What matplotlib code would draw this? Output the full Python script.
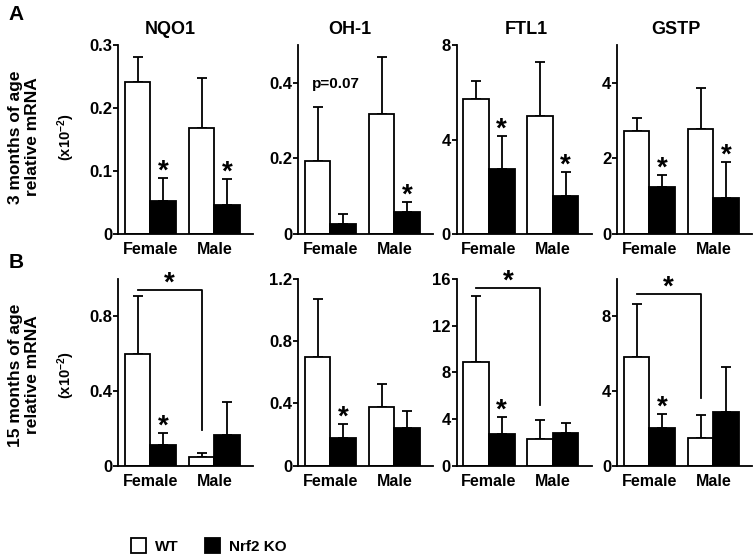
import matplotlib
matplotlib.use('Agg')
import matplotlib.pyplot as plt
import matplotlib.patches as mpatches
from matplotlib.ticker import FuncFormatter
import numpy as np

plt.rcParams['font.family'] = ['Liberation Sans', 'DejaVu Sans']
plt.rcParams['font.weight'] = 'bold'
plt.rcParams['mathtext.fontset'] = 'custom'
plt.rcParams['mathtext.rm'] = 'Liberation Sans:bold'
plt.rcParams['mathtext.it'] = 'Liberation Sans:bold'

# ─── Data ───────────────────────────────────────────────────────────────────
genes = ['NQO1', 'OH-1', 'FTL1', 'GSTP']
sexes = ['Female', 'Male']

# 3 months, per gene: [female, male]
wt_3m = [[0.241, 0.168], [0.192, 0.318], [5.70, 4.99], [2.72, 2.78]]
wt_3m_err = [[0.040, 0.080], [0.143, 0.150], [0.77, 2.28], [0.36, 1.09]]
ko_3m = [[0.052, 0.046], [0.026, 0.059], [2.74, 1.60], [1.24, 0.96]]
ko_3m_err = [[0.037, 0.041], [0.026, 0.025], [1.40, 1.02], [0.33, 0.95]]
star_3m = [[True, True], [False, True], [True, True], [True, True]]

# 15 months
wt_15m = [[0.599, 0.043], [0.698, 0.378], [8.89, 2.25], [5.80, 1.48]]
wt_15m_err = [[0.308, 0.025], [0.372, 0.145], [5.68, 1.65], [2.88, 1.22]]
ko_15m = [[0.110, 0.165], [0.179, 0.244], [2.68, 2.77], [2.01, 2.86]]
ko_15m_err = [[0.066, 0.175], [0.091, 0.108], [1.48, 0.84], [0.75, 2.42]]
star_15m = [[True, False], [True, False], [True, False], [True, False]]

# WT female vs WT male brackets (15 months): (bar top, right leg end) or None
bracket_15m = [(0.939, 0.19), None, (15.24, 5.2), (9.21, 3.61)]

ylim_3m = [0.3, 0.5, 8, 5]
yticks_3m = [[0, 0.1, 0.2, 0.3], [0, 0.2, 0.4], [0, 4, 8], [0, 2, 4]]
ylim_15m = [1.0, 1.2, 16, 10]
yticks_15m = [[0, 0.4, 0.8], [0, 0.4, 0.8, 1.2], [0, 4, 8, 12, 16], [0, 4, 8]]

# ─── Layout ─────────────────────────────────────────────────────────────────
W, H = 755, 560
fig = plt.figure(figsize=(W / 100, H / 100), dpi=100)

ax_lefts = [118, 298, 456.5, 617]
ax_w = 135
rows = [(234, 45), (465.5, 279)]  # (zero line, top) in px
title_x = [0.39, 0.385, 0.52, 0.437]

x_wt = np.array([0, 2.5])
x_ko = np.array([1, 3.5])
LW = 1.3


def fmt(v, pos):
    return '%g' % v


def star(ax, x, y):
    ax.annotate('*', xy=(x, y), xytext=(0, -0.5), textcoords='offset points',
                ha='center', va='baseline', fontsize=20, fontweight='bold',
                annotation_clip=False)


def draw_panel(ax, wt, wt_err, ko, ko_err, stars, ylim, yticks, bracket=None):
    ax.bar(x_wt, wt, width=1.0, color='white', edgecolor='black',
           linewidth=LW, zorder=2)
    ax.bar(x_ko, ko, width=1.0, color='black', edgecolor='black',
           linewidth=LW, zorder=2)
    for xs, ys, es in [(x_wt, wt, wt_err), (x_ko, ko, ko_err)]:
        ax.errorbar(xs, ys, yerr=[np.zeros(len(es)), es], fmt='none',
                    ecolor='black', elinewidth=LW, capsize=3.6,
                    capthick=LW, zorder=1)
    for i, s in enumerate(stars):
        if s:
            star(ax, x_ko[i], ko[i] + ko_err[i])
    if bracket is not None:
        top, leg = bracket
        ax.plot([x_wt[0], x_wt[1], x_wt[1]], [top, top, leg],
                color='black', lw=LW, clip_on=False)
        star(ax, x_wt.mean(), top)

    ax.set_xlim(-0.77, 4.51)
    ax.set_ylim(0, ylim)
    ax.set_yticks(yticks)
    ax.yaxis.set_major_formatter(FuncFormatter(fmt))
    ax.set_xticks([0.5, 3.0])
    ax.set_xticklabels(sexes)
    ax.tick_params(axis='x', length=0, pad=6, labelsize=11.5)
    ax.tick_params(axis='y', length=3.4, width=LW, pad=0.8, labelsize=12)
    for sp in ['top', 'right']:
        ax.spines[sp].set_visible(False)
    for sp in ['left', 'bottom']:
        ax.spines[sp].set_linewidth(LW)


for r, (zero, top) in enumerate(rows):
    for g in range(4):
        ax = fig.add_axes([ax_lefts[g] / W, 1 - zero / H, ax_w / W, (zero - top) / H])
        if r == 0:
            draw_panel(ax, wt_3m[g], wt_3m_err[g], ko_3m[g], ko_3m_err[g],
                       star_3m[g], ylim_3m[g], yticks_3m[g])
            ax.text(title_x[g], 1 + 15.5 / (zero - top), genes[g],
                    transform=ax.transAxes, ha='center', va='center',
                    fontsize=13, fontweight='bold')
            if genes[g] == 'OH-1':
                ax.text(0.72, 0.398, 'p=0.07', ha='center', va='center',
                        fontsize=11, fontweight='bold')
        else:
            draw_panel(ax, wt_15m[g], wt_15m_err[g], ko_15m[g], ko_15m_err[g],
                       star_15m[g], ylim_15m[g], yticks_15m[g], bracket_15m[g])

# Row labels
fig.text(24 / W, 1 - 137 / H, '3 months of age\nrelative mRNA', rotation=90,
         ha='center', va='center', fontsize=12.5, fontweight='bold',
         linespacing=1.1)
fig.text(24 / W, 1 - 375 / H, '15 months of age\nrelative mRNA', rotation=90,
         ha='center', va='center', fontsize=12.5, fontweight='bold',
         linespacing=1.1)
for yc in [137, 375]:
    fig.text(66 / W, 1 - yc / H, r'(x10$^{-2}$)', rotation=90,
             ha='center', va='center', fontsize=10.5)

fig.text(16 / W, 1 - 14 / H, 'A', ha='center', va='center', fontsize=15,
         fontweight='bold')
fig.text(16 / W, 1 - 263 / H, 'B', ha='center', va='center', fontsize=15,
         fontweight='bold')

# Legend
handles = [mpatches.Patch(facecolor='white', edgecolor='black', linewidth=LW, label='WT'),
           mpatches.Patch(facecolor='black', edgecolor='black', linewidth=LW, label='Nrf2 KO')]
fig.legend(handles=handles, loc='center left', bbox_to_anchor=(117 / W, 1 - 546 / H),
           ncol=2, frameon=False, fontsize=11, handlelength=1.0, handleheight=1.1,
           handletextpad=0.6, columnspacing=1.7, borderpad=0.4)

fig.savefig('out.png', dpi=100)
